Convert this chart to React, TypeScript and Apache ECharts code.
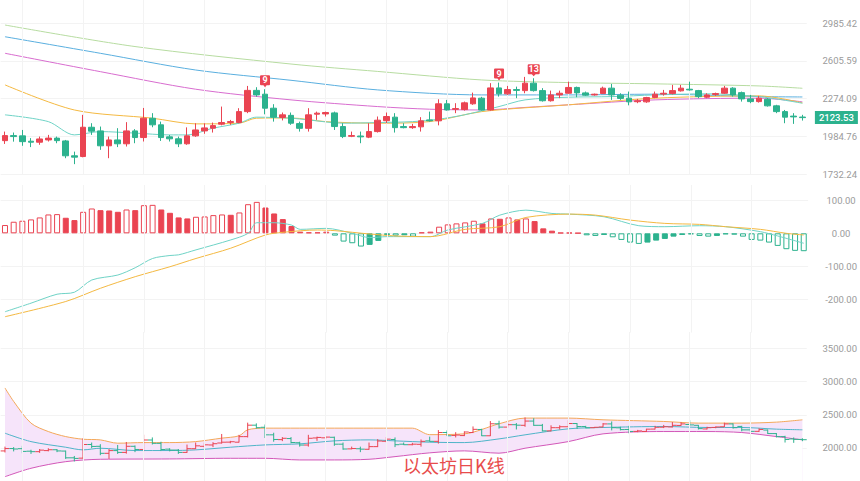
import React, { useEffect, useRef } from 'react';
import * as echarts from 'echarts';

// ---------- data ----------
const categories = Array.from({ length: 93 }, (_, i) => String(i + 1));

const opens = [
  1954, 1990, 1988, 1950, 1943, 1959, 1972, 1952, 1850, 1845,
  2051, 2024, 1918, 1959, 1932, 2024, 1976, 2119, 2069, 1981,
  1967, 1932, 1988, 2024, 2044, 2074, 2087, 2086, 2170, 2343,
  2311, 2197, 2125, 2141, 2078, 2043, 2150, 2152, 2160, 2056,
  1985, 1987, 1979, 2019, 2100, 2127, 2056, 2048, 2054, 2106,
  2099, 2232, 2188, 2186, 2232, 2278, 2183, 2364, 2314, 2350,
  2341, 2405, 2341, 2257, 2305, 2319, 2368, 2322, 2305, 2316,
  2362, 2303, 2278, 2249, 2248, 2284, 2312, 2316, 2339, 2353,
  2341, 2286, 2309, 2319, 2362, 2324, 2272, 2250, 2269, 2216,
  2170, 2135, 2128,
];
const closes = [
  1990, 1983, 1947, 1943, 1966, 1972, 1954, 1850, 1841, 2051,
  2022, 1918, 1959, 1932, 2024, 1976, 2119, 2069, 1976, 1967,
  1932, 1988, 2031, 2046, 2063, 2086, 2093, 2170, 2343, 2305,
  2197, 2127, 2145, 2081, 2043, 2145, 2158, 2163, 2056, 1983,
  1990, 1981, 2019, 2104, 2132, 2048, 2048, 2056, 2099, 2099,
  2232, 2183, 2194, 2240, 2280, 2183, 2364, 2314, 2350, 2343,
  2405, 2341, 2257, 2305, 2319, 2368, 2322, 2303, 2311, 2362,
  2305, 2276, 2248, 2256, 2283, 2311, 2319, 2341, 2362, 2347,
  2291, 2305, 2316, 2362, 2305, 2272, 2250, 2278, 2216, 2170,
  2127, 2129, 2123.53,
];
const highs = [
  2019, 2012, 2031, 1972, 1983, 1995, 1983, 1959, 1878, 2145,
  2081, 2056, 1983, 2044, 2089, 2037, 2199, 2158, 2093, 1995,
  1983, 2050, 2081, 2081, 2086, 2210, 2106, 2197, 2381, 2370,
  2353, 2229, 2163, 2163, 2093, 2197, 2170, 2170, 2170, 2081,
  2019, 2019, 2081, 2132, 2163, 2158, 2081, 2076, 2127, 2170,
  2269, 2264, 2237, 2250, 2324, 2289, 2405, 2410, 2381, 2375,
  2460, 2448, 2362, 2341, 2341, 2418, 2375, 2333, 2316, 2375,
  2399, 2319, 2333, 2272, 2289, 2333, 2347, 2390, 2390, 2418,
  2347, 2319, 2324, 2381, 2370, 2333, 2305, 2297, 2278, 2224,
  2183, 2158, 2145,
];
const lows = [
  1931, 1947, 1918, 1909, 1925, 1948, 1936, 1834, 1795, 1840,
  1995, 1890, 1834, 1909, 1913, 1936, 1948, 2051, 1952, 1948,
  1909, 1925, 1981, 2003, 2012, 2065, 2069, 2081, 2158, 2291,
  2149, 2093, 2102, 2069, 2019, 2019, 2106, 2132, 2031, 1972,
  1979, 1936, 1972, 2012, 2081, 2012, 2043, 2039, 2019, 2093,
  2065, 2178, 2158, 2178, 2224, 2178, 2178, 2291, 2305, 2278,
  2319, 2333, 2250, 2250, 2278, 2316, 2286, 2297, 2299, 2314,
  2264, 2264, 2220, 2237, 2240, 2278, 2299, 2309, 2333, 2341,
  2278, 2278, 2297, 2314, 2291, 2250, 2237, 2242, 2210, 2158,
  2081, 2076, 2101,
];

// moving averages on the price panel: [candle index, price]
const maShort = [
  [0, 2145], [5, 2093], [8, 1995], [11, 2019], [15, 2008], [19, 1995], [21, 1995],
  [24, 2044], [27, 2081], [29, 2127], [33, 2119], [35, 2106], [39, 2081], [43, 2086],
  [47, 2093], [50, 2111], [53, 2145], [57, 2210], [60, 2264], [65, 2286], [70, 2291],
  [75, 2305], [81, 2314], [87, 2291], [92, 2237],
];
const maMid = [
  [0, 2390], [8, 2183], [17, 2119], [22, 2076], [27, 2081], [29, 2119], [33, 2121],
  [37, 2093], [43, 2081], [49, 2093], [55, 2170], [65, 2224], [75, 2278], [87, 2297],
  [92, 2240],
];
const maLong = [
  [0, 2679], [11, 2507], [22, 2353], [33, 2264], [43, 2210], [49, 2189], [55, 2183],
  [60, 2203], [65, 2224], [75, 2264], [87, 2278], [92, 2248],
];
const maLonger = [
  [0, 2844], [11, 2679], [22, 2522], [33, 2430], [43, 2347], [55, 2305], [65, 2305],
  [75, 2311], [87, 2291], [92, 2288],
];
const maLongest = [
  [0, 2967], [15, 2745], [33, 2577], [43, 2509], [55, 2433], [65, 2410], [75, 2399],
  [87, 2381], [92, 2361],
];

// MACD
const macdHist = [
  25, 35, 38, 42, 48, 57, 58, 47, 40, 65,
  75, 70, 69, 65, 72, 70, 85, 86, 72, 62,
  48, 45, 50, 51, 55, 57, 56, 63, 88, 95,
  78, 60, 43, 22, 5, 3, 3, 5, -7, -25,
  -30, -40, -35, -23, -5, -7, -6, -10, 3, 5,
  20, 27, 30, 33, 38, 30, 45, 44, 48, 42,
  45, 37, 15, 8, 2, 2, 1, -6, -8, -5,
  -12, -20, -28, -32, -28, -22, -17, -10, -5, -3,
  -8, -10, -8, -3, -4, -10, -20, -22, -28, -38,
  -48, -53, -54,
];
const macdDif = [
  [0, -237], [3, -211], [6, -184], [8, -178], [10, -141], [13, -126], [15, -104],
  [17, -76], [19, -67], [20, -65], [22, -50], [26, -20], [28, 0], [29, 32], [31, 32],
  [33, 25], [34, 12], [37, 15], [40, 0], [42, -13], [44, -10], [47, -10], [49, -10],
  [51, 10], [55, 30], [57, 55], [60, 70], [63, 60], [65, 58], [69, 50], [73, 23],
  [76, 20], [80, 23], [83, 20], [87, 5], [89, -8], [92, -30],
];
const macdDea = [
  [0, -252], [7, -206], [11, -166], [15, -131], [19, -101], [22, -76], [26, -45],
  [30, -5], [32, 3], [36, 10], [38, 8], [42, -2], [45, -8], [49, -10], [53, 12],
  [57, 20], [60, 48], [65, 58], [68, 55], [72, 40], [76, 30], [80, 27], [83, 20],
  [87, 12], [90, 0], [92, -5],
];

// Bollinger bands on the lower panel
const bollUpper = [
  [0, 2905], [1, 2702], [3, 2374], [5, 2247], [7, 2171], [9, 2131], [11, 2121],
  [13, 2071], [16, 2080], [19, 2080], [22, 2095], [25, 2147], [27, 2182], [28, 2273],
  [30, 2298], [38, 2298], [47, 2298], [49, 2200], [53, 2212], [57, 2364], [60, 2450],
  [65, 2450], [69, 2424], [76, 2399], [80, 2374], [85, 2374], [89, 2389], [92, 2424],
];
const bollMid = [
  [0, 2222], [3, 2095], [7, 2010], [9, 1970], [11, 1995], [15, 1960], [19, 1960],
  [22, 1970], [26, 2010], [30, 2045], [34, 2061], [38, 2106], [42, 2121], [45, 2106],
  [49, 2086], [53, 2080], [57, 2136], [60, 2197], [65, 2288], [69, 2308], [76, 2323],
  [81, 2308], [85, 2308], [89, 2283], [92, 2273],
];
const bollLower = [
  [0, 1565], [3, 1692], [7, 1792], [11, 1828], [19, 1833], [26, 1843], [30, 1843],
  [34, 1818], [38, 1818], [42, 1828], [45, 1868], [49, 1925], [53, 1955], [57, 1920],
  [60, 1995], [65, 2095], [69, 2212], [76, 2247], [81, 2247], [85, 2232], [89, 2171],
  [92, 2121],
];

const priceTicks = [1732.24, 2985.42];
const tdMarks = [
  { index: 30, label: '9' },
  { index: 57, label: '9' },
  { index: 61, label: '13' },
];
const title = '以太坊日K线';

// ---------- styles ----------
const RED = '#ea4452';
const GREEN = '#2cb28e';
const AXIS_TEXT = '#9b9b9b';
const GRID_LINE = '#f3f3f3';

const L0 = Math.log(priceTicks[0]);
const LD = Math.log(priceTicks[1] / priceTicks[0]) / 4;
const toLog = (p: number) => (Math.log(p) - L0) / LD;

const PIN = 'path://M1,0 H9 Q10,0 10,1 V9 Q10,10 9,10 H6.6 L5,12 L3.4,10 H1 Q0,10 0,9 V1 Q0,0 1,0 Z';

const GRID_LEFT = 0.65;
const GRID_WIDTH = 808.7;

const vLineIdx = categories.map((_, i) => i).filter((i) => (i - 2) % 7 === 0);
const vLines = {
  silent: true,
  symbol: ['none', 'none'],
  label: { show: false },
  lineStyle: { color: GRID_LINE, type: 'solid', width: 1 },
  emphasis: { disabled: true },
  data: vLineIdx.map((i) => ({ xAxis: i })),
};

function xAxisFor(gridIndex: number) {
  return {
    type: 'category',
    gridIndex,
    data: categories,
    boundaryGap: true,
    axisLine: { show: false },
    axisTick: { show: false },
    axisLabel: { show: false },
    splitLine: { show: false },
  };
}

function yLabel(formatter: (v: number) => string) {
  return {
    color: AXIS_TEXT,
    fontSize: 9.5,
    fontFamily: 'Roboto, sans-serif',
    align: 'center',
    margin: 33,
    showMinLabel: false,
    showMaxLabel: false,
    formatter,
  };
}

export default function App() {
  const ref = useRef<HTMLDivElement>(null);

  useEffect(() => {
    if (!ref.current) return;
    const chart = echarts.init(ref.current, null, { renderer: 'svg' });

    const candleData = categories.map((_, i) => [
      toLog(opens[i]), toLog(closes[i]), toLog(lows[i]), toLog(highs[i]),
    ]);
    const logLine = (arr: number[][]) => arr.map(([i, v]) => [i, toLog(v)]);

    const histData = macdHist.map((v, i) => {
      const prev = i > 0 ? macdHist[i - 1] : 0;
      const c = v >= 0 ? RED : GREEN;
      const hollow = Math.abs(v) >= Math.abs(prev);
      return {
        value: v,
        itemStyle: { color: hollow ? '#ffffff' : c, borderColor: c, borderWidth: 1 },
      };
    });

    const ohlcData = categories.map((_, i) => [i, opens[i], closes[i], lows[i], highs[i]]);

    const maLine = (data: number[][], color: string, extra: any = {}) => ({
      type: 'line',
      xAxisIndex: 0,
      yAxisIndex: 0,
      data: logLine(data),
      showSymbol: false,
      smooth: 0.3,
      z: 3,
      lineStyle: { color, width: 1 },
      itemStyle: { color },
      ...extra,
    });

    const splitY = { showMinLine: false, showMaxLine: false, lineStyle: { color: GRID_LINE } };

    const option: any = {
      animation: false,
      backgroundColor: '#ffffff',
      title: {
        text: title,
        left: 403,
        top: 456,
        padding: 0,
        textStyle: {
          color: '#e84c4c',
          fontSize: 18,
          fontWeight: 'normal',
          fontFamily: '"Noto Sans CJK SC", sans-serif',
        },
      },
      grid: [
        { left: GRID_LEFT, width: GRID_WIDTH, top: 0, height: 174 },
        { left: GRID_LEFT, width: GRID_WIDTH, top: 185, height: 147.6 },
        { left: GRID_LEFT, width: GRID_WIDTH, top: 332, height: 149.6 },
      ],
      xAxis: [xAxisFor(0), xAxisFor(1), xAxisFor(2)],
      yAxis: [
        {
          type: 'value',
          gridIndex: 0,
          position: 'right',
          min: 0,
          max: 4.6185,
          interval: 1,
          axisLine: { show: false },
          axisTick: { show: false },
          splitLine: { showMinLine: true, showMaxLine: false, lineStyle: { color: GRID_LINE } },
          axisLabel: { ...yLabel((v: number) => Math.exp(L0 + v * LD).toFixed(2)), showMinLabel: true },
        },
        {
          type: 'value',
          gridIndex: 1,
          position: 'right',
          min: -300,
          max: 146,
          interval: 100,
          axisLine: { show: false },
          axisTick: { show: false },
          splitLine: splitY,
          axisLabel: yLabel((v: number) => (v > 100 || v < -200 ? '' : v.toFixed(2))),
        },
        {
          type: 'value',
          gridIndex: 2,
          position: 'right',
          min: 1500,
          max: 3750,
          interval: 500,
          axisLine: { show: false },
          axisTick: { show: false },
          splitLine: splitY,
          axisLabel: yLabel((v: number) => (v > 3500 || v < 2000 ? '' : v.toFixed(2))),
        },
      ],
      series: [
        maLine(maLongest, '#b7dca1', { markLine: vLines, z: 2 }),
        maLine(maLonger, '#5aafdf'),
        maLine(maLong, '#d86dcf'),
        maLine(maMid, '#f4b942'),
        maLine(maShort, '#6fd3c6'),
        {
          type: 'candlestick',
          xAxisIndex: 0,
          yAxisIndex: 0,
          data: candleData,
          barWidth: 6,
          z: 5,
          itemStyle: {
            color: RED,
            color0: GREEN,
            borderColor: RED,
            borderColor0: GREEN,
            borderWidth: 1,
          },
          markPoint: {
            z: 10,
            data: [
              ...tdMarks.map((m) => ({
                coord: [m.index, toLog(highs[m.index])],
                value: m.label,
                symbol: PIN,
                symbolSize: [m.label.length > 1 ? 12 : 10, 12],
                symbolOffset: [0, -8],
                itemStyle: { color: RED },
                label: {
                  show: true,
                  color: '#ffffff',
                  fontSize: 9,
                  fontWeight: 'bold',
                  fontFamily: 'Roboto, sans-serif',
                  offset: [0, -1],
                  formatter: m.label,
                },
              })),
              {
                coord: [92, toLog(closes[92])],
                value: closes[92].toFixed(2),
                symbol: 'rect',
                symbolSize: [43, 13],
                symbolOffset: [34, 0],
                itemStyle: { color: GREEN },
                label: {
                  show: true,
                  color: '#ffffff',
                  fontSize: 9.5,
                  fontWeight: 500,
                  fontFamily: 'Roboto, sans-serif',
                  formatter: closes[92].toFixed(2),
                },
              },
            ],
          },
        },
        {
          type: 'bar',
          xAxisIndex: 1,
          yAxisIndex: 1,
          data: histData,
          barWidth: 6,
          markLine: vLines,
        },
        {
          type: 'line',
          xAxisIndex: 1,
          yAxisIndex: 1,
          data: macdDif,
          showSymbol: false,
          smooth: 0.3,
          lineStyle: { color: '#6fd3c6', width: 1 },
          z: 4,
        },
        {
          type: 'line',
          xAxisIndex: 1,
          yAxisIndex: 1,
          data: macdDea,
          showSymbol: false,
          smooth: 0.3,
          lineStyle: { color: '#f4b942', width: 1 },
          z: 4,
        },
        {
          type: 'line',
          xAxisIndex: 2,
          yAxisIndex: 2,
          data: bollUpper,
          showSymbol: false,
          smooth: 0.3,
          z: 1,
          lineStyle: { color: '#f3a85a', width: 1 },
          areaStyle: { color: '#f6e4fa', opacity: 1, origin: 'start' },
        },
        {
          type: 'line',
          xAxisIndex: 2,
          yAxisIndex: 2,
          data: bollLower,
          showSymbol: false,
          smooth: 0.3,
          z: 2,
          lineStyle: { color: '#d257b8', width: 1 },
          areaStyle: { color: '#ffffff', opacity: 1, origin: 'start' },
        },
        {
          type: 'line',
          xAxisIndex: 2,
          yAxisIndex: 2,
          data: bollMid,
          showSymbol: false,
          smooth: 0.3,
          z: 3,
          lineStyle: { color: '#4fb4c8', width: 1 },
          markLine: vLines,
        },
        {
          type: 'custom',
          xAxisIndex: 2,
          yAxisIndex: 2,
          z: 4,
          data: ohlcData,
          encode: { x: 0, y: [1, 2, 3, 4] },
          renderItem: (params: any, api: any) => {
            const i = api.value(0);
            const o = api.value(1);
            const c = api.value(2);
            const pO = api.coord([i, o]);
            const pC = api.coord([i, c]);
            const pL = api.coord([i, api.value(3)]);
            const pH = api.coord([i, api.value(4)]);
            const w = api.size([1, 0])[0] * 0.5;
            const color = c >= o ? RED : GREEN;
            const st = { stroke: color, lineWidth: 1 };
            return {
              type: 'group',
              children: [
                { type: 'line', shape: { x1: pL[0], y1: pL[1], x2: pH[0], y2: pH[1] }, style: st },
                { type: 'line', shape: { x1: pO[0] - w, y1: pO[1], x2: pO[0], y2: pO[1] }, style: st },
                { type: 'line', shape: { x1: pC[0], y1: pC[1], x2: pC[0] + w, y2: pC[1] }, style: st },
              ],
            };
          },
        },
      ],
    };

    chart.setOption(option);
    return () => chart.dispose();
  }, []);

  return (
    <div
      ref={ref}
      style={{ position: 'fixed', left: 0, top: 0, width: 860, height: 481, background: '#fff' }}
    />
  );
}
